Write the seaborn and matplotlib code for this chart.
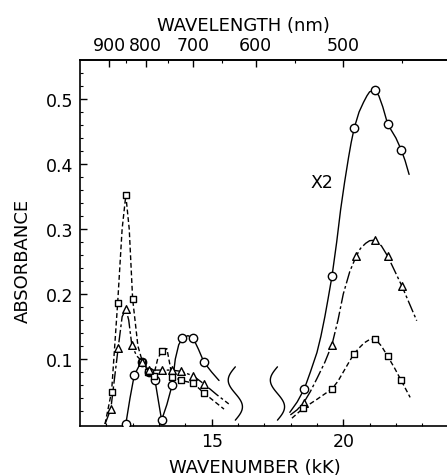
import numpy as np
import pandas as pd
import matplotlib
matplotlib.use("Agg")
import matplotlib.pyplot as plt
import seaborn as sns

# ---------------- data ----------------
# left region (10-16 kK)
circ_l_x = [11.74, 12.06, 12.37, 12.62, 12.85, 13.1, 13.5, 13.89, 14.3, 14.71]
circ_l_y = [0.0, 0.075, 0.096, 0.08, 0.067, 0.006, 0.06, 0.132, 0.132, 0.095]
circ_l_cx = [11.74, 11.9, 12.06, 12.25, 12.37, 12.62, 12.85, 12.98, 13.1, 13.3, 13.5,
             13.62, 13.75, 13.89, 14.1, 14.3, 14.5, 14.71, 15.0, 15.28]
circ_l_cy = [0.0, 0.04, 0.075, 0.09, 0.096, 0.08, 0.067, 0.035, 0.006, 0.03, 0.06,
             0.1, 0.122, 0.132, 0.136, 0.132, 0.115, 0.095, 0.08, 0.067]

sq_l_x = [11.2, 11.43, 11.74, 12.0, 12.37, 12.6, 12.8, 13.1, 13.5, 13.85, 14.3, 14.7]
sq_l_y = [0.05, 0.186, 0.352, 0.192, 0.096, 0.08, 0.074, 0.112, 0.073, 0.067, 0.063, 0.048]
sq_l_cx = [10.95, 11.2, 11.43, 11.6, 11.74, 11.87, 12.0, 12.2, 12.37, 12.6, 12.8,
           12.95, 13.1, 13.3, 13.5, 13.85, 14.3, 14.7, 15.1, 15.47]
sq_l_cy = [0.0, 0.05, 0.186, 0.3, 0.352, 0.3, 0.192, 0.12, 0.096, 0.08, 0.075,
           0.1, 0.112, 0.116, 0.073, 0.067, 0.063, 0.048, 0.035, 0.023]

tri_l_x = [11.17, 11.45, 11.74, 11.97, 12.37, 12.62, 13.13, 13.5, 13.85, 14.3, 14.7]
tri_l_y = [0.023, 0.117, 0.177, 0.121, 0.096, 0.083, 0.083, 0.083, 0.081, 0.074, 0.062]
tri_l_cx = [10.95, 11.17, 11.45, 11.6, 11.74, 11.85, 11.97, 12.15, 12.37, 12.62,
            13.13, 13.5, 13.85, 14.3, 14.7, 15.2, 15.65]
tri_l_cy = [0.0, 0.023, 0.117, 0.165, 0.177, 0.16, 0.121, 0.105, 0.096, 0.083,
            0.083, 0.083, 0.081, 0.074, 0.062, 0.045, 0.031]

# right region (18-23 kK), circles are x2
circ_r_x = [18.52, 19.57, 20.42, 21.19, 21.69, 22.2]
circ_r_y = [0.054, 0.227, 0.456, 0.514, 0.461, 0.422]
circ_r_cx = [17.97, 18.25, 18.52, 18.75, 19.0, 19.15, 19.3, 19.42, 19.57, 19.75, 19.9,
             20.05, 20.2, 20.3, 20.42, 20.6, 20.77, 20.9, 21.0, 21.19, 21.35, 21.5,
             21.69, 22.0, 22.2, 22.35, 22.5]
circ_r_cy = [0.018, 0.034, 0.054, 0.08, 0.11, 0.135, 0.165, 0.192, 0.227, 0.28, 0.33,
             0.372, 0.41, 0.433, 0.456, 0.48, 0.495, 0.505, 0.511, 0.514, 0.505, 0.488,
             0.461, 0.44, 0.422, 0.405, 0.384]

tri_r_x = [18.5, 19.57, 20.49, 21.21, 21.69, 22.23]
tri_r_y = [0.033, 0.122, 0.258, 0.283, 0.258, 0.212]
tri_r_cx = [17.99, 18.25, 18.5, 18.75, 19.0, 19.3, 19.57, 19.8, 20.0, 20.25, 20.49,
            20.65, 20.85, 21.0, 21.21, 21.45, 21.69, 22.23, 22.79]
tri_r_cy = [0.014, 0.022, 0.033, 0.05, 0.07, 0.095, 0.122, 0.16, 0.2, 0.235, 0.258,
            0.27, 0.278, 0.282, 0.283, 0.274, 0.258, 0.212, 0.159]

sq_r_x = [18.47, 19.57, 20.39, 21.21, 21.69, 22.2]
sq_r_y = [0.024, 0.054, 0.107, 0.131, 0.104, 0.067]
sq_r_cx = [18.05, 18.47, 19.0, 19.57, 19.8, 20.0, 20.2, 20.39, 20.6, 20.8, 21.0,
           21.21, 21.45, 21.69, 21.95, 22.2, 22.54]
sq_r_cy = [0.009, 0.024, 0.038, 0.054, 0.066, 0.08, 0.094, 0.107, 0.117, 0.125, 0.13,
           0.131, 0.12, 0.104, 0.086, 0.067, 0.041]

yticks = [0.1, 0.2, 0.3, 0.4, 0.5]
ytick_labels = ["0.1", "0.2", "0.3", "0.4", "0.5"]
xticks = [15, 20]
xtick_labels = ["15", "20"]
wl_major = [900, 800, 700, 600, 500]
wl_labels = ["900", "800", "700", "600", "500"]
wl_minor = [850, 750, 650, 550, 450]

# break marks (axis-break decorations)
break_centers = [15.9, 17.5]

# ---------------- figure ----------------
sns.set_style("ticks")
plt.rcParams["font.family"] = ["DejaVu Sans"]
for k in ["text.color", "axes.labelcolor", "xtick.color", "ytick.color", "axes.edgecolor"]:
    plt.rcParams[k] = "black"

W, H = 447, 477
fig = plt.figure(figsize=(W / 100, H / 100), dpi=100)
ax = fig.add_axes([80 / W, (H - 427) / H, 367 / W, 366 / H])

ls_circ = "-"
ls_tri = (0, (9, 2, 2, 2))
ls_sq = (0, (3.5, 2))
lw = 1.0

def curve(xs, ys, ls):
    df = pd.DataFrame({"x": xs, "y": ys})
    sns.lineplot(data=df, x="x", y="y", ax=ax, sort=False, estimator=None,
                 color="black", linewidth=lw, linestyle=ls)

def marks(xs, ys, m, s):
    df = pd.DataFrame({"x": xs, "y": ys})
    sns.scatterplot(data=df, x="x", y="y", ax=ax, marker=m, s=s,
                    facecolor="white", edgecolor="black", linewidth=1.0, zorder=5)

curve(circ_l_cx, circ_l_cy, ls_circ)
curve(sq_l_cx, sq_l_cy, ls_sq)
curve(tri_l_cx, tri_l_cy, ls_tri)
curve(circ_r_cx, circ_r_cy, ls_circ)
curve(tri_r_cx, tri_r_cy, ls_tri)
curve(sq_r_cx, sq_r_cy, ls_sq)

marks(circ_l_x, circ_l_y, "o", 36)
marks(sq_l_x, sq_l_y, "s", 22)
marks(tri_l_x, tri_l_y, "^", 30)
marks(circ_r_x, circ_r_y, "o", 36)
marks(tri_r_x, tri_r_y, "^", 30)
marks(sq_r_x, sq_r_y, "s", 22)

# break "S" marks
t = np.linspace(0, 1, 60)
for c in break_centers:
    ax.plot(c - 0.27 * np.sin(2 * np.pi * t), 0.088 - 0.082 * t,
            color="black", lw=1.0)

ax.text(19.2, 0.372, "X2", fontsize=12.5, ha="center", va="center")

ax.set_xlim(10.0, 23.94)
ax.set_ylim(-0.003, 0.56)
ax.set_xticks(xticks)
ax.set_xticklabels(xtick_labels)
ax.set_xticks(np.arange(11, 24, 1), minor=True)
ax.set_yticks(yticks)
ax.set_yticklabels(ytick_labels)
ax.set_yticks(np.arange(0.02, 0.56, 0.02), minor=True)
ax.tick_params(which="major", direction="in", length=5, width=1, labelsize=12.5, pad=4)
ax.tick_params(which="minor", direction="in", length=2.5, width=0.8)
ax.tick_params(axis="y", pad=5)

for sp in ["left", "bottom", "top"]:
    ax.spines[sp].set_visible(True)
    ax.spines[sp].set_linewidth(1.2)
    ax.spines[sp].set_color("black")
ax.spines["right"].set_visible(False)

ax.set_xlabel("WAVENUMBER (kK)", fontsize=13)
ax.set_ylabel("ABSORBANCE", fontsize=13)
ax.xaxis.set_label_coords((255 - 80) / 367, (427 - 459) / 366)
ax.yaxis.set_label_coords((32 - 80) / 367, (427 - 261) / 366)

ax2 = ax.twiny()
ax2.set_xlim(ax.get_xlim())
ax2.set_xticks([1e4 / w for w in wl_major])
ax2.set_xticklabels(wl_labels)
ax2.set_xticks([1e4 / w for w in wl_minor], minor=True)
ax2.tick_params(which="major", direction="in", length=5, width=1, labelsize=12.5, pad=4)
ax2.tick_params(which="minor", direction="in", length=2.5, width=0.8)
for sp in ["left", "bottom", "right"]:
    ax2.spines[sp].set_visible(False)
ax2.spines["top"].set_linewidth(1.2)
ax2.spines["top"].set_color("black")
ax2.set_xlabel("WAVELENGTH (nm)", fontsize=13)
ax2.xaxis.set_label_coords((243 - 80) / 367, (427 - 31) / 366)

fig.savefig("out.png", dpi=100)
